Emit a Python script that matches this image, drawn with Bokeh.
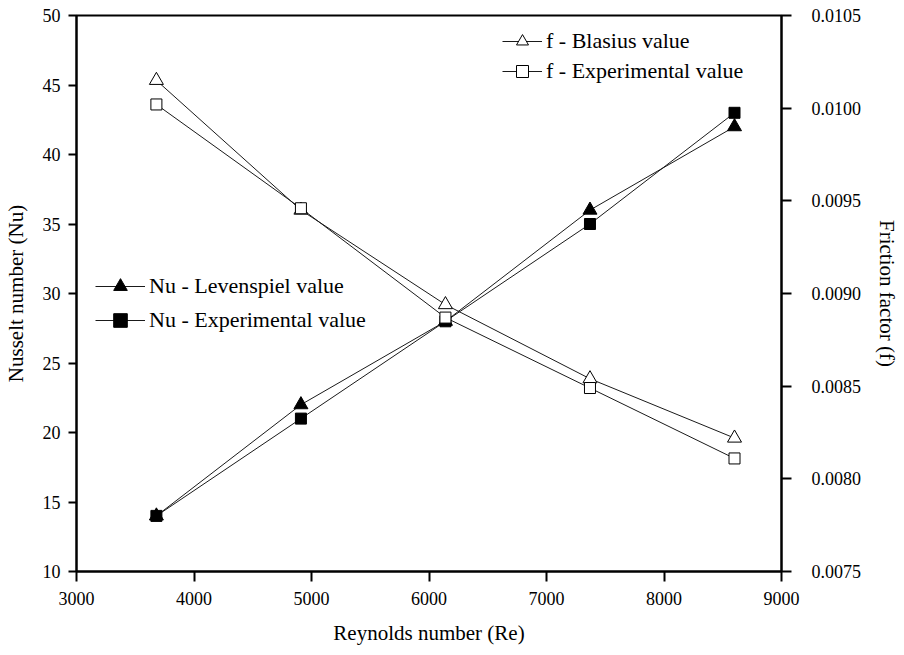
from bokeh.plotting import figure
from bokeh.models import LinearAxis, Range1d, Legend, LegendItem, FixedTicker, PrintfTickFormatter
from bokeh.embed import file_html
from bokeh.resources import INLINE

# Data
reynolds = [3680, 4910, 6140, 7370, 8600]
nu_levenspiel = [14.0, 22.0, 28.0, 36.0, 42.0]
nu_experimental = [14.0, 21.0, 28.0, 35.0, 43.0]
f_blasius = [0.01015, 0.00945, 0.00894, 0.00854, 0.00822]
f_experimental = [0.01002, 0.00946, 0.00887, 0.00849, 0.00811]

x_ticks = [3000, 4000, 5000, 6000, 7000, 8000, 9000]
nu_ticks = [10, 15, 20, 25, 30, 35, 40, 45, 50]
f_ticks = [0.0075, 0.0080, 0.0085, 0.0090, 0.0095, 0.0100, 0.0105]

FONT = "Liberation Serif"

p = figure(frame_width=705, frame_height=556,
           x_range=Range1d(3000, 9000), y_range=Range1d(10, 50),
           output_backend="svg", toolbar_location=None,
           min_border_left=71, min_border_right=100,
           min_border_top=15, min_border_bottom=60)
p.extra_y_ranges = {"f": Range1d(0.0075, 0.0105)}
p.grid.visible = False
p.outline_line_color = "black"
p.outline_line_width = 2
p.background_fill_color = "white"
p.border_fill_color = "white"

def style_axis(ax, tick_out):
    ax.axis_line_width = 2
    ax.axis_line_color = "black"
    ax.major_tick_line_width = 2
    ax.major_tick_line_color = "black"
    ax.major_tick_out = tick_out
    ax.major_tick_in = 0
    ax.minor_tick_line_color = None
    ax.major_label_text_font = FONT
    ax.major_label_text_font_size = "18px"
    ax.major_label_text_color = "black"
    ax.axis_label_text_font = FONT
    ax.axis_label_text_font_size = "21px"
    ax.axis_label_text_font_style = "normal"
    ax.axis_label_text_color = "black"

xa = p.xaxis[0]
xa.ticker = FixedTicker(ticks=x_ticks)
xa.axis_label = "Reynolds number (Re)"
style_axis(xa, 10)
xa.major_label_standoff = 10
xa.axis_label_standoff = 13

ya = p.yaxis[0]
ya.ticker = FixedTicker(ticks=nu_ticks)
ya.axis_label = "Nusselt number (Nu)"
style_axis(ya, 8)
ya.major_label_standoff = 8
ya.axis_label_standoff = 12

fa = LinearAxis(y_range_name="f", axis_label="Friction factor (f)",
                ticker=FixedTicker(ticks=f_ticks),
                formatter=PrintfTickFormatter(format="%.4f"))
style_axis(fa, 10)
fa.major_label_standoff = 20
fa.axis_label_standoff = 11
p.add_layout(fa, "right")

lc = "#1a1a1a"
l1 = p.line(reynolds, nu_levenspiel, line_color=lc, line_width=1)
s1 = p.scatter(reynolds, nu_levenspiel, marker="triangle", size=14,
               fill_color="black", line_color="black")
l2 = p.line(reynolds, nu_experimental, line_color=lc, line_width=1)
s2 = p.scatter(reynolds, nu_experimental, marker="square", size=11,
               fill_color="black", line_color="black")
l3 = p.line(reynolds, f_blasius, line_color=lc, line_width=1, y_range_name="f")
s3 = p.scatter(reynolds, f_blasius, marker="triangle", size=14,
               fill_color="white", line_color="black", y_range_name="f")
l4 = p.line(reynolds, f_experimental, line_color=lc, line_width=1, y_range_name="f")
s4 = p.scatter(reynolds, f_experimental, marker="square", size=11,
               fill_color="white", line_color="black", y_range_name="f")

def make_legend(items, loc, glyph_w, item_h):
    lg = Legend(items=items, location=loc)
    lg.border_line_color = None
    lg.background_fill_alpha = 0
    lg.padding = 0
    lg.margin = 0
    lg.spacing = 0
    lg.glyph_width = glyph_w
    lg.glyph_height = item_h
    lg.label_height = item_h
    lg.label_standoff = 4
    lg.label_text_font = FONT
    lg.label_text_font_size = "22px"
    lg.label_text_color = "black"
    return lg

leg_nu = make_legend([
    LegendItem(label="Nu - Levenspiel value", renderers=[l1, s1]),
    LegendItem(label="Nu - Experimental value", renderers=[l2, s2]),
], (19, 234), 50, 34)
leg_f = make_legend([
    LegendItem(label="f - Blasius value", renderers=[l3, s3]),
    LegendItem(label="f - Experimental value", renderers=[l4, s4]),
], (426, 485), 40, 30)
p.add_layout(leg_nu, "center")
p.add_layout(leg_f, "center")

open("out.html", "w").write(file_html(p, INLINE))
